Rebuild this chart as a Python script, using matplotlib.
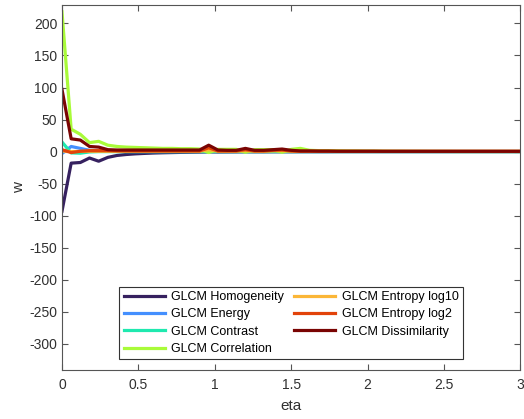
import numpy as np
import matplotlib
matplotlib.use('Agg')
import matplotlib.pyplot as plt

plt.rcParams['font.family'] = ['Liberation Sans', 'DejaVu Sans']
plt.rcParams['axes.unicode_minus'] = False

# ── Weights per GLCM feature vs. eta ────────────────────────────────
eta = np.linspace(0, 3, 51)

homogeneity = [-93, -18, -17, -10, -15, -9, -6, -4.5, -3.5, -2.8,
               -2.2, -1.8, -1.5, -1.2, -1.0, -0.8, -0.4, -0.6, -0.5, -0.4,
               -0.3, -0.3, -0.3, -0.2, -0.2, -0.2, -0.1, -0.1, -0.1, -0.1,
               0, 0, 0, 0, 0, 0, 0, 0, 0, 0,
               0, 0, 0, 0, 0, 0, 0, 0, 0, 0, 0]
energy = [-3, 8, 5, 2, 1, 0.5, 0.3, 0.2, 0.1, 0.1,
          0, 0, 0, 0, 0, 0, 0, 0, 0, 0,
          0, 0, 0, 0, 0, 0, 0, 0, 0, 0,
          0, 0, 0, 0, 0, 0, 0, 0, 0, 0,
          0, 0, 0, 0, 0, 0, 0, 0, 0, 0, 0]
contrast = [15, -2, -2.5, -0.5, 0, 0, 0, 0, 0, 0,
            0, 0, 0, 0, 0, 0, 0, 0, 0, 0,
            0, 0, 0, 0, 0, 0, 0, 0, 0, 0,
            0, 0, 0, 0, 0, 0, 0, 0, 0, 0,
            0, 0, 0, 0, 0, 0, 0, 0, 0, 0, 0]
correlation = [218, 35, 27, 14, 16, 10, 8, 7, 6.5, 6,
               5.5, 5, 5, 4.5, 4.5, 4, -1.5, 3.5, 3.5, 3.5,
               -1, 3, 3, 3, -1, 3.5, 5, 2, 1.5, 1.5,
               1.2, 1, 1, 0.8, 0.8, 0.6, 0.5, 0.5, 0.4, 0.4,
               0.3, 0.3, 0.3, 0.2, 0.2, 0.2, 0.2, 0.2, 0.2, 0.2, 0.2]
entropy_log10 = [1, 0, 0.3, 0.5, 0.5, 0.5, 0.5, 0.5, 0.5, 0.5,
                 0.5, 0.5, 0.5, 0.5, 0.5, 0.5, 3, 0.5, 0.5, 0.5,
                 1.5, 0.5, 0.5, 1, 1.5, 0.5, 0.3, 0.3, 0.3, 0.3,
                 0.2, 0.2, 0.2, 0.2, 0.2, 0.2, 0.2, 0.2, 0.2, 0.2,
                 0.2, 0.2, 0.2, 0.2, 0.2, 0.2, 0.2, 0.2, 0.2, 0.2, 0.2]
entropy_log2 = [3, -1.5, 0.5, 1.5, 1.5, 1.5, 1.2, 1.2, 1, 1,
                1, 1, 1, 1, 1, 1, 6, 1, 1, 1,
                3, 1, 1, 2, 2.5, 1, 0.6, 0.6, 0.5, 0.5,
                0.4, 0.4, 0.4, 0.4, 0.4, 0.4, 0.4, 0.4, 0.4, 0.4,
                0.4, 0.4, 0.4, 0.4, 0.4, 0.4, 0.4, 0.4, 0.4, 0.4, 0.4]
dissimilarity = [97, 20, 18, 8, 7, 3, 2.5, 2.5, 2.5, 2.5,
                 2.5, 2.5, 2.5, 2.5, 2.5, 2.5, 10, 2.5, 2, 2,
                 5, 2, 2, 3, 4, 2, 1, 1, 0.8, 0.8,
                 0.6, 0.6, 0.6, 0.6, 0.6, 0.5, 0.5, 0.5, 0.5, 0.5,
                 0.5, 0.5, 0.5, 0.5, 0.5, 0.5, 0.5, 0.5, 0.5, 0.5, 0.5]

labels = ['GLCM Homogeneity', 'GLCM Energy', 'GLCM Contrast',
          'GLCM Correlation', 'GLCM Entropy log10', 'GLCM Entropy log2',
          'GLCM Dissimilarity']
series = [homogeneity, energy, contrast, correlation,
          entropy_log10, entropy_log2, dissimilarity]

colors = plt.get_cmap('turbo')(np.linspace(0.02, 1, len(series)))

# ── Plot ────────────────────────────────────────────────────────────
fig = plt.figure(figsize=(5.24, 4.19), dpi=100)
ax = fig.add_axes([0.1183, 0.118, 0.875, 0.869])

for y, lab, c in zip(series, labels, colors):
    ax.plot(eta, y, color=c, linewidth=2.3, label=lab)

ax.set_xlim(0, 3)
ax.set_ylim(-340, 228)
ax.set_xticks(np.arange(0, 3.01, 0.5))
ax.set_xticklabels(['0', '0.5', '1', '1.5', '2', '2.5', '3'])
ax.set_yticks(np.arange(-300, 201, 50))

axcol = '#303030'
for s in ax.spines.values():
    s.set_color('#555555')
    s.set_linewidth(0.8)
ax.tick_params(direction='in', top=True, right=True, length=4,
               width=0.8, color='#555555', labelcolor=axcol, labelsize=10)
ax.tick_params(axis='x', pad=6)

ax.set_xlabel('eta', fontsize=11, color=axcol, labelpad=5)
ax.set_ylabel('w', fontsize=11, color=axcol, labelpad=2)

leg = ax.legend(ncol=2, loc='lower center', bbox_to_anchor=(0.5, 0.028),
                fontsize=9, fancybox=False, framealpha=1,
                edgecolor='#333333', handlelength=3.3, handletextpad=0.5,
                columnspacing=0.8, labelspacing=0.42, borderpad=0.35,
                borderaxespad=0)
leg.get_frame().set_linewidth(0.8)

fig.savefig('out.png', dpi=100)
